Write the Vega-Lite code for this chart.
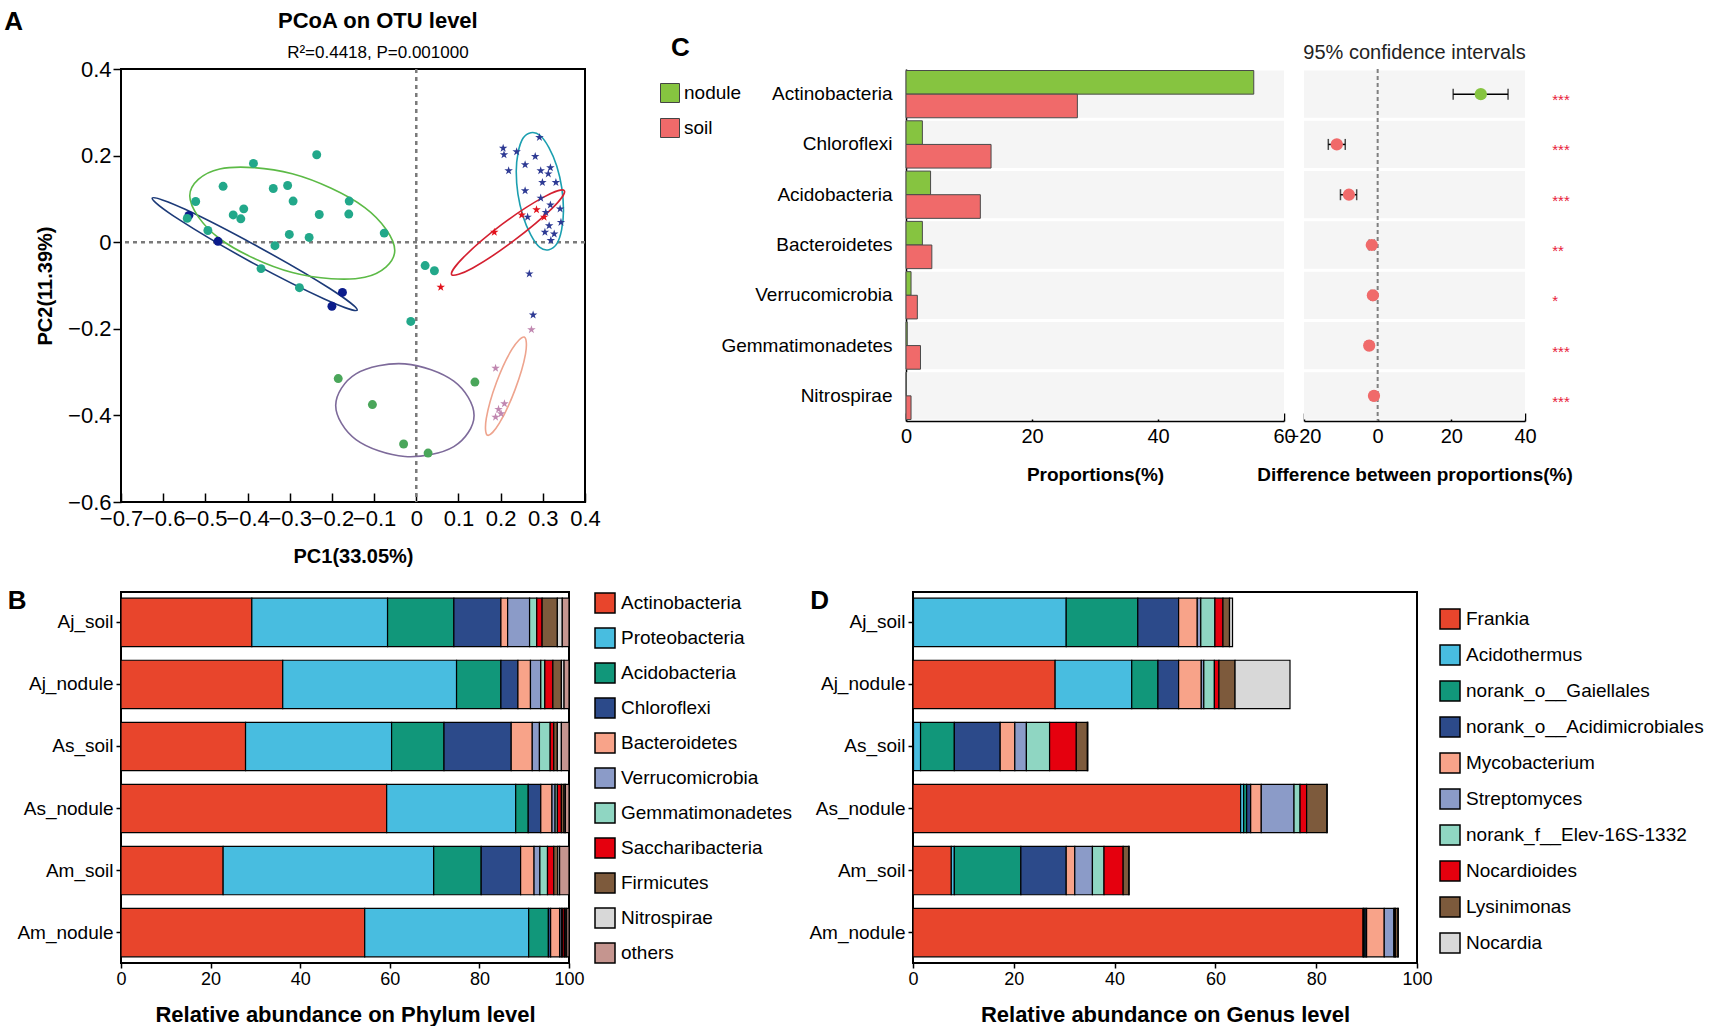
{
  "$schema": "https://vega.github.io/schema/vega-lite/v6.json",
  "background": "white",
  "padding": {"left": 3, "top": 8, "right": 0, "bottom": 0},
  "config": {
    "font": "Liberation Sans",
    "view": {"stroke": "black", "strokeWidth": 2},
    "axis": {"grid": false, "labelFlush": false, "labelOverlap": false, "domainColor": "black", "tickColor": "black", "labelColor": "black", "titleColor": "black", "tickWidth": 1.5, "domainWidth": 1.5}
  },
  "datasets": {
    "pcoa": [
      {"g": "Am_nodule", "x": -0.539, "y": 0.062}, {"g": "Am_nodule", "x": -0.470, "y": 0.002}, {"g": "Am_nodule", "x": -0.200, "y": -0.148}, {"g": "Am_nodule", "x": -0.175, "y": -0.116},
      {"g": "Am_soil", "x": 0.185, "y": 0.023}, {"g": "Am_soil", "x": 0.058, "y": -0.104}, {"g": "Am_soil", "x": 0.250, "y": 0.063}, {"g": "Am_soil", "x": 0.285, "y": 0.075}, {"g": "Am_soil", "x": 0.303, "y": 0.058},
      {"g": "As_nodule", "x": -0.236, "y": 0.202}, {"g": "As_nodule", "x": -0.386, "y": 0.182}, {"g": "As_nodule", "x": -0.458, "y": 0.129}, {"g": "As_nodule", "x": -0.339, "y": 0.124}, {"g": "As_nodule", "x": -0.305, "y": 0.131}, {"g": "As_nodule", "x": -0.523, "y": 0.094}, {"g": "As_nodule", "x": -0.292, "y": 0.095}, {"g": "As_nodule", "x": -0.159, "y": 0.095}, {"g": "As_nodule", "x": -0.409, "y": 0.077}, {"g": "As_nodule", "x": -0.434, "y": 0.063}, {"g": "As_nodule", "x": -0.416, "y": 0.054}, {"g": "As_nodule", "x": -0.230, "y": 0.064}, {"g": "As_nodule", "x": -0.160, "y": 0.065}, {"g": "As_nodule", "x": -0.543, "y": 0.055}, {"g": "As_nodule", "x": -0.494, "y": 0.027}, {"g": "As_nodule", "x": -0.301, "y": 0.018}, {"g": "As_nodule", "x": -0.254, "y": 0.011}, {"g": "As_nodule", "x": -0.335, "y": -0.008}, {"g": "As_nodule", "x": -0.076, "y": 0.021}, {"g": "As_nodule", "x": -0.368, "y": -0.061}, {"g": "As_nodule", "x": -0.277, "y": -0.105}, {"g": "As_nodule", "x": -0.013, "y": -0.183}, {"g": "As_nodule", "x": 0.021, "y": -0.054}, {"g": "As_nodule", "x": 0.043, "y": -0.066},
      {"g": "As_soil", "x": 0.292, "y": 0.242}, {"g": "As_soil", "x": 0.206, "y": 0.217}, {"g": "As_soil", "x": 0.208, "y": 0.202}, {"g": "As_soil", "x": 0.238, "y": 0.209}, {"g": "As_soil", "x": 0.282, "y": 0.198}, {"g": "As_soil", "x": 0.219, "y": 0.165}, {"g": "As_soil", "x": 0.258, "y": 0.179}, {"g": "As_soil", "x": 0.295, "y": 0.165}, {"g": "As_soil", "x": 0.318, "y": 0.172}, {"g": "As_soil", "x": 0.313, "y": 0.158}, {"g": "As_soil", "x": 0.299, "y": 0.138}, {"g": "As_soil", "x": 0.331, "y": 0.138}, {"g": "As_soil", "x": 0.258, "y": 0.119}, {"g": "As_soil", "x": 0.295, "y": 0.102}, {"g": "As_soil", "x": 0.318, "y": 0.086}, {"g": "As_soil", "x": 0.341, "y": 0.077}, {"g": "As_soil", "x": 0.264, "y": 0.058}, {"g": "As_soil", "x": 0.307, "y": 0.069}, {"g": "As_soil", "x": 0.343, "y": 0.046}, {"g": "As_soil", "x": 0.315, "y": 0.038}, {"g": "As_soil", "x": 0.305, "y": 0.023}, {"g": "As_soil", "x": 0.327, "y": 0.019}, {"g": "As_soil", "x": 0.319, "y": 0.004}, {"g": "As_soil", "x": 0.268, "y": -0.073}, {"g": "As_soil", "x": 0.277, "y": -0.168},
      {"g": "Aj_nodule", "x": -0.185, "y": -0.315}, {"g": "Aj_nodule", "x": -0.104, "y": -0.375}, {"g": "Aj_nodule", "x": -0.030, "y": -0.466}, {"g": "Aj_nodule", "x": 0.028, "y": -0.487}, {"g": "Aj_nodule", "x": 0.139, "y": -0.323},
      {"g": "Aj_soil", "x": 0.273, "y": -0.202}, {"g": "Aj_soil", "x": 0.188, "y": -0.291}, {"g": "Aj_soil", "x": 0.209, "y": -0.373}, {"g": "Aj_soil", "x": 0.195, "y": -0.386}, {"g": "Aj_soil", "x": 0.188, "y": -0.404}, {"g": "Aj_soil", "x": 0.201, "y": -0.396}
    ],
    "ell": [
      {"g": "Am_nodule", "k": 0, "x": -0.140, "y": -0.157}, {"g": "Am_nodule", "k": 1, "x": -0.218, "y": -0.131}, {"g": "Am_nodule", "k": 2, "x": -0.393, "y": -0.045}, {"g": "Am_nodule", "k": 3, "x": -0.562, "y": 0.052}, {"g": "Am_nodule", "k": 4, "x": -0.626, "y": 0.102}, {"g": "Am_nodule", "k": 5, "x": -0.548, "y": 0.076}, {"g": "Am_nodule", "k": 6, "x": -0.374, "y": -0.011}, {"g": "Am_nodule", "k": 7, "x": -0.205, "y": -0.107},
      {"g": "As_nodule", "k": 0, "x": -0.051, "y": -0.019}, {"g": "As_nodule", "k": 1, "x": -0.122, "y": -0.081}, {"g": "As_nodule", "k": 2, "x": -0.294, "y": -0.070}, {"g": "As_nodule", "k": 3, "x": -0.466, "y": 0.008}, {"g": "As_nodule", "k": 4, "x": -0.537, "y": 0.107}, {"g": "As_nodule", "k": 5, "x": -0.466, "y": 0.169}, {"g": "As_nodule", "k": 6, "x": -0.294, "y": 0.158}, {"g": "As_nodule", "k": 7, "x": -0.122, "y": 0.080},
      {"g": "As_soil", "k": 0, "x": 0.349, "y": 0.073}, {"g": "As_soil", "k": 1, "x": 0.333, "y": -0.004}, {"g": "As_soil", "k": 2, "x": 0.293, "y": -0.012}, {"g": "As_soil", "k": 3, "x": 0.253, "y": 0.060}, {"g": "As_soil", "k": 4, "x": 0.237, "y": 0.163}, {"g": "As_soil", "k": 5, "x": 0.253, "y": 0.240}, {"g": "As_soil", "k": 6, "x": 0.293, "y": 0.247}, {"g": "As_soil", "k": 7, "x": 0.333, "y": 0.176},
      {"g": "Am_soil", "k": 0, "x": 0.351, "y": 0.119}, {"g": "Am_soil", "k": 1, "x": 0.322, "y": 0.078}, {"g": "Am_soil", "k": 2, "x": 0.232, "y": 0.004}, {"g": "Am_soil", "k": 3, "x": 0.133, "y": -0.060}, {"g": "Am_soil", "k": 4, "x": 0.084, "y": -0.075}, {"g": "Am_soil", "k": 5, "x": 0.113, "y": -0.034}, {"g": "Am_soil", "k": 6, "x": 0.203, "y": 0.041}, {"g": "Am_soil", "k": 7, "x": 0.302, "y": 0.104},
      {"g": "Aj_soil", "k": 0, "x": 0.256, "y": -0.219}, {"g": "Aj_soil", "k": 1, "x": 0.259, "y": -0.258}, {"g": "Aj_soil", "k": 2, "x": 0.234, "y": -0.341}, {"g": "Aj_soil", "k": 3, "x": 0.197, "y": -0.418}, {"g": "Aj_soil", "k": 4, "x": 0.169, "y": -0.446}, {"g": "Aj_soil", "k": 5, "x": 0.166, "y": -0.407}, {"g": "Aj_soil", "k": 6, "x": 0.190, "y": -0.324}, {"g": "Aj_soil", "k": 7, "x": 0.227, "y": -0.247},
      {"g": "Aj_nodule", "k": 0, "x": 0.137, "y": -0.400}, {"g": "Aj_nodule", "k": 1, "x": 0.089, "y": -0.472}, {"g": "Aj_nodule", "k": 2, "x": -0.027, "y": -0.495}, {"g": "Aj_nodule", "k": 3, "x": -0.143, "y": -0.456}, {"g": "Aj_nodule", "k": 4, "x": -0.191, "y": -0.377}, {"g": "Aj_nodule", "k": 5, "x": -0.143, "y": -0.304}, {"g": "Aj_nodule", "k": 6, "x": -0.027, "y": -0.281}, {"g": "Aj_nodule", "k": 7, "x": 0.089, "y": -0.321}
    ],
    "prop": [
      {"p": "Actinobacteria", "grp": "nodule", "v": 55.2}, {"p": "Actinobacteria", "grp": "soil", "v": 27.2},
      {"p": "Chloroflexi", "grp": "nodule", "v": 2.6}, {"p": "Chloroflexi", "grp": "soil", "v": 13.5},
      {"p": "Acidobacteria", "grp": "nodule", "v": 3.9}, {"p": "Acidobacteria", "grp": "soil", "v": 11.8},
      {"p": "Bacteroidetes", "grp": "nodule", "v": 2.6}, {"p": "Bacteroidetes", "grp": "soil", "v": 4.1},
      {"p": "Verrucomicrobia", "grp": "nodule", "v": 0.8}, {"p": "Verrucomicrobia", "grp": "soil", "v": 1.8},
      {"p": "Gemmatimonadetes", "grp": "nodule", "v": 0.2}, {"p": "Gemmatimonadetes", "grp": "soil", "v": 2.3},
      {"p": "Nitrospirae", "grp": "nodule", "v": 0.05}, {"p": "Nitrospirae", "grp": "soil", "v": 0.8}
    ],
    "ci": [
      {"p": "Actinobacteria", "grp": "nodule", "d": 28.0, "lo": 20.5, "hi": 35.4, "sig": "***"},
      {"p": "Chloroflexi", "grp": "soil", "d": -11.1, "lo": -13.4, "hi": -8.8, "sig": "***"},
      {"p": "Acidobacteria", "grp": "soil", "d": -7.8, "lo": -10.1, "hi": -5.7, "sig": "***"},
      {"p": "Bacteroidetes", "grp": "soil", "d": -1.6, "lo": -2.3, "hi": -0.9, "sig": "**"},
      {"p": "Verrucomicrobia", "grp": "soil", "d": -1.3, "lo": -1.8, "hi": -0.8, "sig": "*"},
      {"p": "Gemmatimonadetes", "grp": "soil", "d": -2.3, "lo": -2.8, "hi": -1.8, "sig": "***"},
      {"p": "Nitrospirae", "grp": "soil", "d": -1.0, "lo": -1.3, "hi": -0.7, "sig": "***"}
    ],
    "phy": [
      {"s": "Aj_soil", "p": "Actinobacteria", "k": 1, "v": 29.2}, {"s": "Aj_soil", "p": "Proteobacteria", "k": 2, "v": 30.3}, {"s": "Aj_soil", "p": "Acidobacteria", "k": 3, "v": 14.8}, {"s": "Aj_soil", "p": "Chloroflexi", "k": 4, "v": 10.5}, {"s": "Aj_soil", "p": "Bacteroidetes", "k": 5, "v": 1.5}, {"s": "Aj_soil", "p": "Verrucomicrobia", "k": 6, "v": 4.9}, {"s": "Aj_soil", "p": "Gemmatimonadetes", "k": 7, "v": 1.6}, {"s": "Aj_soil", "p": "Saccharibacteria", "k": 8, "v": 1.2}, {"s": "Aj_soil", "p": "Firmicutes", "k": 9, "v": 3.4}, {"s": "Aj_soil", "p": "Nitrospirae", "k": 10, "v": 1.1}, {"s": "Aj_soil", "p": "others", "k": 11, "v": 1.5},
      {"s": "Aj_nodule", "p": "Actinobacteria", "k": 1, "v": 36.1}, {"s": "Aj_nodule", "p": "Proteobacteria", "k": 2, "v": 38.8}, {"s": "Aj_nodule", "p": "Acidobacteria", "k": 3, "v": 9.9}, {"s": "Aj_nodule", "p": "Chloroflexi", "k": 4, "v": 3.8}, {"s": "Aj_nodule", "p": "Bacteroidetes", "k": 5, "v": 2.8}, {"s": "Aj_nodule", "p": "Verrucomicrobia", "k": 6, "v": 2.3}, {"s": "Aj_nodule", "p": "Gemmatimonadetes", "k": 7, "v": 0.9}, {"s": "Aj_nodule", "p": "Saccharibacteria", "k": 8, "v": 1.8}, {"s": "Aj_nodule", "p": "Firmicutes", "k": 9, "v": 1.9}, {"s": "Aj_nodule", "p": "Nitrospirae", "k": 10, "v": 0.6}, {"s": "Aj_nodule", "p": "others", "k": 11, "v": 1.1},
      {"s": "As_soil", "p": "Actinobacteria", "k": 1, "v": 27.8}, {"s": "As_soil", "p": "Proteobacteria", "k": 2, "v": 32.6}, {"s": "As_soil", "p": "Acidobacteria", "k": 3, "v": 11.7}, {"s": "As_soil", "p": "Chloroflexi", "k": 4, "v": 15.0}, {"s": "As_soil", "p": "Bacteroidetes", "k": 5, "v": 4.7}, {"s": "As_soil", "p": "Verrucomicrobia", "k": 6, "v": 1.6}, {"s": "As_soil", "p": "Gemmatimonadetes", "k": 7, "v": 2.4}, {"s": "As_soil", "p": "Saccharibacteria", "k": 8, "v": 0.8}, {"s": "As_soil", "p": "Firmicutes", "k": 9, "v": 0.8}, {"s": "As_soil", "p": "Nitrospirae", "k": 10, "v": 0.9}, {"s": "As_soil", "p": "others", "k": 11, "v": 1.7},
      {"s": "As_nodule", "p": "Actinobacteria", "k": 1, "v": 59.3}, {"s": "As_nodule", "p": "Proteobacteria", "k": 2, "v": 28.8}, {"s": "As_nodule", "p": "Acidobacteria", "k": 3, "v": 2.8}, {"s": "As_nodule", "p": "Chloroflexi", "k": 4, "v": 2.8}, {"s": "As_nodule", "p": "Bacteroidetes", "k": 5, "v": 2.5}, {"s": "As_nodule", "p": "Verrucomicrobia", "k": 6, "v": 0.7}, {"s": "As_nodule", "p": "Gemmatimonadetes", "k": 7, "v": 0.5}, {"s": "As_nodule", "p": "Saccharibacteria", "k": 8, "v": 0.9}, {"s": "As_nodule", "p": "Firmicutes", "k": 9, "v": 0.6}, {"s": "As_nodule", "p": "Nitrospirae", "k": 10, "v": 0.3}, {"s": "As_nodule", "p": "others", "k": 11, "v": 0.8},
      {"s": "Am_soil", "p": "Actinobacteria", "k": 1, "v": 22.8}, {"s": "Am_soil", "p": "Proteobacteria", "k": 2, "v": 47.0}, {"s": "Am_soil", "p": "Acidobacteria", "k": 3, "v": 10.6}, {"s": "Am_soil", "p": "Chloroflexi", "k": 4, "v": 8.8}, {"s": "Am_soil", "p": "Bacteroidetes", "k": 5, "v": 3.0}, {"s": "Am_soil", "p": "Verrucomicrobia", "k": 6, "v": 1.3}, {"s": "Am_soil", "p": "Gemmatimonadetes", "k": 7, "v": 1.7}, {"s": "Am_soil", "p": "Saccharibacteria", "k": 8, "v": 1.4}, {"s": "Am_soil", "p": "Firmicutes", "k": 9, "v": 0.9}, {"s": "Am_soil", "p": "Nitrospirae", "k": 10, "v": 0.4}, {"s": "Am_soil", "p": "others", "k": 11, "v": 2.1},
      {"s": "Am_nodule", "p": "Actinobacteria", "k": 1, "v": 54.4}, {"s": "Am_nodule", "p": "Proteobacteria", "k": 2, "v": 36.6}, {"s": "Am_nodule", "p": "Acidobacteria", "k": 3, "v": 4.4}, {"s": "Am_nodule", "p": "Chloroflexi", "k": 4, "v": 0.5}, {"s": "Am_nodule", "p": "Bacteroidetes", "k": 5, "v": 2.0}, {"s": "Am_nodule", "p": "Verrucomicrobia", "k": 6, "v": 0.4}, {"s": "Am_nodule", "p": "Gemmatimonadetes", "k": 7, "v": 0.3}, {"s": "Am_nodule", "p": "Saccharibacteria", "k": 8, "v": 0.4}, {"s": "Am_nodule", "p": "Firmicutes", "k": 9, "v": 0.3}, {"s": "Am_nodule", "p": "Nitrospirae", "k": 10, "v": 0.2}, {"s": "Am_nodule", "p": "others", "k": 11, "v": 0.5}
    ],
    "gen": [
      {"s": "Aj_soil", "p": "Frankia", "k": 1, "v": 0.1}, {"s": "Aj_soil", "p": "Acidothermus", "k": 2, "v": 30.3}, {"s": "Aj_soil", "p": "norank_o__Gaiellales", "k": 3, "v": 14.2}, {"s": "Aj_soil", "p": "norank_o__Acidimicrobiales", "k": 4, "v": 8.1}, {"s": "Aj_soil", "p": "Mycobacterium", "k": 5, "v": 3.7}, {"s": "Aj_soil", "p": "Streptomyces", "k": 6, "v": 0.7}, {"s": "Aj_soil", "p": "norank_f__Elev-16S-1332", "k": 7, "v": 2.8}, {"s": "Aj_soil", "p": "Nocardioides", "k": 8, "v": 1.6}, {"s": "Aj_soil", "p": "Lysinimonas", "k": 9, "v": 1.3}, {"s": "Aj_soil", "p": "Nocardia", "k": 10, "v": 0.6},
      {"s": "Aj_nodule", "p": "Frankia", "k": 1, "v": 28.2}, {"s": "Aj_nodule", "p": "Acidothermus", "k": 2, "v": 15.2}, {"s": "Aj_nodule", "p": "norank_o__Gaiellales", "k": 3, "v": 5.2}, {"s": "Aj_nodule", "p": "norank_o__Acidimicrobiales", "k": 4, "v": 4.1}, {"s": "Aj_nodule", "p": "Mycobacterium", "k": 5, "v": 4.5}, {"s": "Aj_nodule", "p": "Streptomyces", "k": 6, "v": 0.5}, {"s": "Aj_nodule", "p": "norank_f__Elev-16S-1332", "k": 7, "v": 2.1}, {"s": "Aj_nodule", "p": "Nocardioides", "k": 8, "v": 0.9}, {"s": "Aj_nodule", "p": "Lysinimonas", "k": 9, "v": 3.2}, {"s": "Aj_nodule", "p": "Nocardia", "k": 10, "v": 10.9},
      {"s": "As_soil", "p": "Frankia", "k": 1, "v": 0.1}, {"s": "As_soil", "p": "Acidothermus", "k": 2, "v": 1.4}, {"s": "As_soil", "p": "norank_o__Gaiellales", "k": 3, "v": 6.7}, {"s": "As_soil", "p": "norank_o__Acidimicrobiales", "k": 4, "v": 9.1}, {"s": "As_soil", "p": "Mycobacterium", "k": 5, "v": 2.9}, {"s": "As_soil", "p": "Streptomyces", "k": 6, "v": 2.3}, {"s": "As_soil", "p": "norank_f__Elev-16S-1332", "k": 7, "v": 4.6}, {"s": "As_soil", "p": "Nocardioides", "k": 8, "v": 5.3}, {"s": "As_soil", "p": "Lysinimonas", "k": 9, "v": 2.2}, {"s": "As_soil", "p": "Nocardia", "k": 10, "v": 0.1},
      {"s": "As_nodule", "p": "Frankia", "k": 1, "v": 65.0}, {"s": "As_nodule", "p": "Acidothermus", "k": 2, "v": 0.6}, {"s": "As_nodule", "p": "norank_o__Gaiellales", "k": 3, "v": 0.6}, {"s": "As_nodule", "p": "norank_o__Acidimicrobiales", "k": 4, "v": 0.8}, {"s": "As_nodule", "p": "Mycobacterium", "k": 5, "v": 2.1}, {"s": "As_nodule", "p": "Streptomyces", "k": 6, "v": 6.5}, {"s": "As_nodule", "p": "norank_f__Elev-16S-1332", "k": 7, "v": 1.2}, {"s": "As_nodule", "p": "Nocardioides", "k": 8, "v": 1.3}, {"s": "As_nodule", "p": "Lysinimonas", "k": 9, "v": 4.0}, {"s": "As_nodule", "p": "Nocardia", "k": 10, "v": 0.1},
      {"s": "Am_soil", "p": "Frankia", "k": 1, "v": 7.6}, {"s": "Am_soil", "p": "Acidothermus", "k": 2, "v": 0.6}, {"s": "Am_soil", "p": "norank_o__Gaiellales", "k": 3, "v": 13.2}, {"s": "Am_soil", "p": "norank_o__Acidimicrobiales", "k": 4, "v": 9.0}, {"s": "Am_soil", "p": "Mycobacterium", "k": 5, "v": 1.7}, {"s": "Am_soil", "p": "Streptomyces", "k": 6, "v": 3.5}, {"s": "Am_soil", "p": "norank_f__Elev-16S-1332", "k": 7, "v": 2.3}, {"s": "Am_soil", "p": "Nocardioides", "k": 8, "v": 3.8}, {"s": "Am_soil", "p": "Lysinimonas", "k": 9, "v": 1.1}, {"s": "Am_soil", "p": "Nocardia", "k": 10, "v": 0.1},
      {"s": "Am_nodule", "p": "Frankia", "k": 1, "v": 89.3}, {"s": "Am_nodule", "p": "Acidothermus", "k": 2, "v": 0.1}, {"s": "Am_nodule", "p": "norank_o__Gaiellales", "k": 3, "v": 0.3}, {"s": "Am_nodule", "p": "norank_o__Acidimicrobiales", "k": 4, "v": 0.3}, {"s": "Am_nodule", "p": "Mycobacterium", "k": 5, "v": 3.5}, {"s": "Am_nodule", "p": "Streptomyces", "k": 6, "v": 1.9}, {"s": "Am_nodule", "p": "norank_f__Elev-16S-1332", "k": 7, "v": 0.2}, {"s": "Am_nodule", "p": "Nocardioides", "k": 8, "v": 0.1}, {"s": "Am_nodule", "p": "Lysinimonas", "k": 9, "v": 0.5}, {"s": "Am_nodule", "p": "Nocardia", "k": 10, "v": 0.1}
    ]
  },
  "spacing": 20,
  "resolve": {"scale": {"color": "independent", "fill": "independent", "shape": "independent"}},
  "vconcat": [
    {
      "spacing": 58,
      "resolve": {"scale": {"color": "independent", "fill": "independent", "shape": "independent"}},
      "hconcat": [
        {
          "width": 464,
          "height": 433,
          "layer": [
            {
              "data": {"values": [{}]},
              "mark": {"type": "rule", "strokeDash": [4, 4], "color": "#7a7a7a", "strokeWidth": 2.5},
              "encoding": {"x": {"datum": 0, "type": "quantitative"}}
            },
            {
              "data": {"values": [{}]},
              "mark": {"type": "rule", "strokeDash": [4, 4], "color": "#7a7a7a", "strokeWidth": 2.5},
              "encoding": {"y": {"datum": 0, "type": "quantitative"}}
            },
            {
              "data": {"name": "ell"},
              "mark": {"type": "line", "interpolate": "cardinal-closed", "strokeWidth": 1.6},
              "encoding": {
                "x": {"field": "x", "type": "quantitative"},
                "y": {"field": "y", "type": "quantitative"},
                "order": {"field": "k", "type": "quantitative"},
                "color": {"field": "g", "type": "nominal", "scale": {"domain": ["Am_nodule", "Am_soil", "As_nodule", "As_soil", "Aj_nodule", "Aj_soil"], "range": ["#1c3a78", "#d42030", "#5cba46", "#1b9fb0", "#7d6a9a", "#eea48e"]}, "legend": null}
              }
            },
            {
              "data": {"name": "pcoa"},
              "mark": {"type": "point", "filled": true, "opacity": 1, "size": 80},
              "encoding": {
                "x": {"field": "x", "type": "quantitative", "scale": {"domain": [-0.7, 0.4], "nice": false, "zero": false}, "axis": {"title": "PC1(33.05%)", "values": [-0.7, -0.6, -0.5, -0.4, -0.3, -0.2, -0.1, 0, 0.1, 0.2, 0.3, 0.4], "format": "~g", "labelFontSize": 22, "tickSize": -9, "labelPadding": 15, "titleFontSize": 20, "titleFontWeight": "bold", "titlePadding": 17, "domain": false}},
                "y": {"field": "y", "type": "quantitative", "scale": {"domain": [-0.6, 0.4], "nice": false, "zero": false}, "axis": {"title": "PC2(11.39%)", "values": [-0.6, -0.4, -0.2, 0, 0.2, 0.4], "format": "~g", "labelFontSize": 22, "tickSize": 8, "labelPadding": 2, "titleFontSize": 20, "titleFontWeight": "bold", "titlePadding": 12, "domain": false}},
                "fill": {"field": "g", "type": "nominal", "scale": {"domain": ["Am_nodule", "Am_soil", "As_nodule", "As_soil", "Aj_nodule", "Aj_soil"], "range": ["#0b1c8c", "#e3121c", "#22a88a", "#2e3a94", "#4aa65a", "#c087b0"]}, "legend": {"title": null, "orient": "right", "offset": 24, "symbolSize": 420, "labelFontSize": 19, "rowPadding": 9, "labelOffset": 12, "labelLimit": 400}},
                "shape": {"field": "g", "type": "nominal", "scale": {"domain": ["Am_nodule", "Am_soil", "As_nodule", "As_soil", "Aj_nodule", "Aj_soil"], "range": ["circle", "M0,-1L0.225,-0.309L0.951,-0.309L0.363,0.118L0.588,0.809L0,0.382L-0.588,0.809L-0.363,0.118L-0.951,-0.309L-0.225,-0.309Z", "circle", "M0,-1L0.225,-0.309L0.951,-0.309L0.363,0.118L0.588,0.809L0,0.382L-0.588,0.809L-0.363,0.118L-0.951,-0.309L-0.225,-0.309Z", "circle", "M0,-1L0.225,-0.309L0.951,-0.309L0.363,0.118L0.588,0.809L0,0.382L-0.588,0.809L-0.363,0.118L-0.951,-0.309L-0.225,-0.309Z"]}, "legend": {"title": null, "orient": "right", "offset": 24, "symbolSize": 420, "labelFontSize": 19, "rowPadding": 9, "labelOffset": 12, "labelLimit": 400}}
              }
            },
            {
              "data": {"values": [{}]},
              "mark": {"type": "text", "text": "A", "fontSize": 26, "fontWeight": "bold", "align": "left", "baseline": "middle", "color": "black"},
              "encoding": {"x": {"datum": -0.977, "type": "quantitative"}, "y": {"datum": 0.508, "type": "quantitative"}}
            },
            {
              "data": {"values": [{}]},
              "mark": {"type": "text", "text": "PCoA on OTU level", "fontSize": 22, "fontWeight": "bold", "align": "center", "baseline": "middle", "color": "black"},
              "encoding": {"x": {"datum": -0.091, "type": "quantitative"}, "y": {"datum": 0.510, "type": "quantitative"}}
            },
            {
              "data": {"values": [{}]},
              "mark": {"type": "text", "text": "R²=0.4418, P=0.001000", "fontSize": 17, "align": "center", "baseline": "middle", "color": "black"},
              "encoding": {"x": {"datum": -0.091, "type": "quantitative"}, "y": {"datum": 0.436, "type": "quantitative"}}
            }
          ]
        },
        {
          "spacing": 20,
          "bounds": "flush",
          "resolve": {"scale": {"color": "independent", "x": "independent", "y": "independent"}},
          "hconcat": [
            {
              "width": 378,
              "height": 352,
              "view": {"stroke": null},
              "title": {"text": "C", "anchor": "start", "frame": "group", "dx": -235, "fontSize": 26, "fontWeight": "bold", "offset": 8, "color": "black"},
              "layer": [
                {
                  "data": {"name": "ci"},
                  "mark": {"type": "bar", "color": "#f5f5f5"},
                  "encoding": {
                    "y": {"field": "p", "type": "nominal", "sort": ["Actinobacteria", "Chloroflexi", "Acidobacteria", "Bacteroidetes", "Verrucomicrobia", "Gemmatimonadetes", "Nitrospirae"], "scale": {"paddingInner": 0.06, "paddingOuter": 0.03}, "axis": {"title": null, "labelFontSize": 19, "ticks": false, "labelPadding": 14, "domain": true}},
                    "x": {"datum": 0, "type": "quantitative", "scale": {"domain": [0, 60], "nice": false}, "axis": {"title": "Proportions(%)", "values": [0, 20, 40, 60], "labelFontSize": 20, "tickSize": -8, "labelPadding": 13, "titleFontSize": 19, "titleFontWeight": "bold", "titlePadding": 19}},
                    "x2": {"datum": 60}
                  }
                },
                {
                  "data": {"name": "prop"},
                  "mark": {"type": "bar", "stroke": "#4a4a4a", "strokeWidth": 1},
                  "encoding": {
                    "y": {"field": "p", "type": "nominal", "sort": ["Actinobacteria", "Chloroflexi", "Acidobacteria", "Bacteroidetes", "Verrucomicrobia", "Gemmatimonadetes", "Nitrospirae"]},
                    "yOffset": {"field": "grp", "type": "nominal", "sort": ["nodule", "soil"], "scale": {"paddingInner": 0, "paddingOuter": 0}},
                    "x": {"field": "v", "type": "quantitative"},
                    "color": {"field": "grp", "type": "nominal", "scale": {"domain": ["nodule", "soil"], "range": ["#86c440", "#f06a6a"]}, "legend": {"title": null, "orient": "none", "legendX": -246, "legendY": 14, "symbolType": "square", "symbolSize": 361, "symbolStrokeColor": "#444", "symbolStrokeWidth": 1, "labelFontSize": 19, "rowPadding": 11, "labelOffset": 4, "labelLimit": 400}}
                  }
                }
              ]
            },
            {
              "width": 221,
              "height": 352,
              "view": {"stroke": null},
              "title": {"text": "95% confidence intervals", "anchor": "middle", "frame": "group", "fontSize": 20, "fontWeight": "normal", "offset": 5, "color": "#222"},
              "layer": [
                {
                  "data": {"name": "ci"},
                  "mark": {"type": "bar", "color": "#f5f5f5"},
                  "encoding": {
                    "y": {"field": "p", "type": "nominal", "sort": ["Actinobacteria", "Chloroflexi", "Acidobacteria", "Bacteroidetes", "Verrucomicrobia", "Gemmatimonadetes", "Nitrospirae"], "scale": {"paddingInner": 0.06, "paddingOuter": 0.03}, "axis": null},
                    "x": {"datum": -20, "type": "quantitative", "scale": {"domain": [-20, 40], "nice": false}, "axis": {"title": "Difference between proportions(%)", "values": [-20, 0, 20, 40], "labelFontSize": 20, "tickSize": -8, "labelPadding": 13, "titleFontSize": 19, "titleFontWeight": "bold", "titlePadding": 19}},
                    "x2": {"datum": 40}
                  }
                },
                {
                  "data": {"values": [{}]},
                  "mark": {"type": "rule", "strokeDash": [4, 3], "color": "#808080", "strokeWidth": 2},
                  "encoding": {"x": {"datum": 0, "type": "quantitative"}}
                },
                {
                  "data": {"name": "ci"},
                  "mark": {"type": "rule", "color": "black", "strokeWidth": 1.5},
                  "encoding": {
                    "y": {"field": "p", "type": "nominal", "sort": ["Actinobacteria", "Chloroflexi", "Acidobacteria", "Bacteroidetes", "Verrucomicrobia", "Gemmatimonadetes", "Nitrospirae"]},
                    "x": {"field": "lo", "type": "quantitative"},
                    "x2": {"field": "hi"}
                  }
                },
                {
                  "data": {"name": "ci"},
                  "mark": {"type": "tick", "orient": "vertical", "color": "black", "thickness": 1.5, "size": 11},
                  "encoding": {
                    "y": {"field": "p", "type": "nominal", "sort": ["Actinobacteria", "Chloroflexi", "Acidobacteria", "Bacteroidetes", "Verrucomicrobia", "Gemmatimonadetes", "Nitrospirae"]},
                    "x": {"field": "lo", "type": "quantitative"}
                  }
                },
                {
                  "data": {"name": "ci"},
                  "mark": {"type": "tick", "orient": "vertical", "color": "black", "thickness": 1.5, "size": 11},
                  "encoding": {
                    "y": {"field": "p", "type": "nominal", "sort": ["Actinobacteria", "Chloroflexi", "Acidobacteria", "Bacteroidetes", "Verrucomicrobia", "Gemmatimonadetes", "Nitrospirae"]},
                    "x": {"field": "hi", "type": "quantitative"}
                  }
                },
                {
                  "data": {"name": "ci"},
                  "mark": {"type": "circle", "size": 150, "opacity": 1},
                  "encoding": {
                    "y": {"field": "p", "type": "nominal", "sort": ["Actinobacteria", "Chloroflexi", "Acidobacteria", "Bacteroidetes", "Verrucomicrobia", "Gemmatimonadetes", "Nitrospirae"]},
                    "x": {"field": "d", "type": "quantitative"},
                    "color": {"field": "grp", "type": "nominal", "scale": {"domain": ["nodule", "soil"], "range": ["#86c440", "#f06a6a"]}, "legend": null}
                  }
                },
                {
                  "data": {"name": "ci"},
                  "mark": {"type": "text", "align": "left", "baseline": "middle", "color": "#e8203a", "fontSize": 15, "dy": 6},
                  "encoding": {
                    "y": {"field": "p", "type": "nominal", "sort": ["Actinobacteria", "Chloroflexi", "Acidobacteria", "Bacteroidetes", "Verrucomicrobia", "Gemmatimonadetes", "Nitrospirae"]},
                    "x": {"datum": 47.4, "type": "quantitative"},
                    "text": {"field": "sig", "type": "nominal"}
                  }
                }
              ]
            }
          ]
        }
      ]
    },
    {
      "spacing": 13,
      "resolve": {"scale": {"color": "independent"}},
      "hconcat": [
        {
          "width": 448,
          "height": 371,
          "layer": [
            {
              "data": {"name": "phy"},
              "mark": {"type": "bar", "stroke": "black", "strokeWidth": 1.2},
              "encoding": {
                "y": {"field": "s", "type": "nominal", "sort": ["Aj_soil", "Aj_nodule", "As_soil", "As_nodule", "Am_soil", "Am_nodule"], "scale": {"paddingInner": 0.22, "paddingOuter": 0.1}, "axis": {"title": null, "labelFontSize": 19, "tickSize": 5, "labelPadding": 3, "domain": false}},
                "x": {"field": "v", "type": "quantitative", "stack": "zero", "scale": {"domain": [0, 100], "nice": false}, "axis": {"title": "Relative abundance on Phylum level", "values": [0, 20, 40, 60, 80, 100], "labelFontSize": 18, "tickSize": 5, "labelPadding": 2, "titleFontSize": 22, "titleFontWeight": "bold", "titlePadding": 16, "domain": false}},
                "color": {"field": "p", "type": "nominal", "scale": {"domain": ["Actinobacteria", "Proteobacteria", "Acidobacteria", "Chloroflexi", "Bacteroidetes", "Verrucomicrobia", "Gemmatimonadetes", "Saccharibacteria", "Firmicutes", "Nitrospirae", "others"], "range": ["#e8452c", "#48bde0", "#11977a", "#2c4a8a", "#f8a389", "#8b9bc8", "#8fd6c2", "#e5000e", "#7d5a3c", "#d8d8d8", "#c5958f"]}, "legend": {"title": null, "orient": "right", "offset": 25, "symbolType": "square", "symbolSize": 400, "symbolStrokeColor": "black", "symbolStrokeWidth": 1.5, "labelFontSize": 19, "rowPadding": 9, "labelOffset": 5, "labelLimit": 400}},
                "order": {"field": "k", "type": "quantitative"}
              }
            },
            {
              "data": {"values": [{}]},
              "mark": {"type": "text", "text": "B", "fontSize": 26, "fontWeight": "bold", "align": "left", "baseline": "middle", "color": "black", "dy": -21},
              "encoding": {"x": {"datum": -25.3, "type": "quantitative"}, "y": {"datum": "Aj_soil", "type": "nominal"}}
            }
          ]
        },
        {
          "width": 504,
          "height": 371,
          "layer": [
            {
              "data": {"name": "gen"},
              "mark": {"type": "bar", "stroke": "black", "strokeWidth": 1.2},
              "encoding": {
                "y": {"field": "s", "type": "nominal", "sort": ["Aj_soil", "Aj_nodule", "As_soil", "As_nodule", "Am_soil", "Am_nodule"], "scale": {"paddingInner": 0.22, "paddingOuter": 0.1}, "axis": {"title": null, "labelFontSize": 19, "tickSize": 5, "labelPadding": 3, "domain": false}},
                "x": {"field": "v", "type": "quantitative", "stack": "zero", "scale": {"domain": [0, 100], "nice": false}, "axis": {"title": "Relative abundance on Genus level", "values": [0, 20, 40, 60, 80, 100], "labelFontSize": 18, "tickSize": 5, "labelPadding": 2, "titleFontSize": 22, "titleFontWeight": "bold", "titlePadding": 16, "domain": false}},
                "color": {"field": "p", "type": "nominal", "scale": {"domain": ["Frankia", "Acidothermus", "norank_o__Gaiellales", "norank_o__Acidimicrobiales", "Mycobacterium", "Streptomyces", "norank_f__Elev-16S-1332", "Nocardioides", "Lysinimonas", "Nocardia"], "range": ["#e8452c", "#48bde0", "#11977a", "#2c4a8a", "#f8a389", "#8b9bc8", "#8fd6c2", "#e5000e", "#7d5a3c", "#d8d8d8"]}, "legend": {"title": null, "orient": "right", "offset": 6, "padding": 16, "symbolType": "square", "symbolSize": 400, "symbolStrokeColor": "black", "symbolStrokeWidth": 1.5, "labelFontSize": 19, "rowPadding": 10, "labelOffset": 5, "labelLimit": 400}},
                "order": {"field": "k", "type": "quantitative"}
              }
            },
            {
              "data": {"values": [{}]},
              "mark": {"type": "text", "text": "D", "fontSize": 26, "fontWeight": "bold", "align": "left", "baseline": "middle", "color": "black", "dy": -21},
              "encoding": {"x": {"datum": -20.4, "type": "quantitative"}, "y": {"datum": "Aj_soil", "type": "nominal"}}
            }
          ]
        }
      ]
    }
  ]
}
